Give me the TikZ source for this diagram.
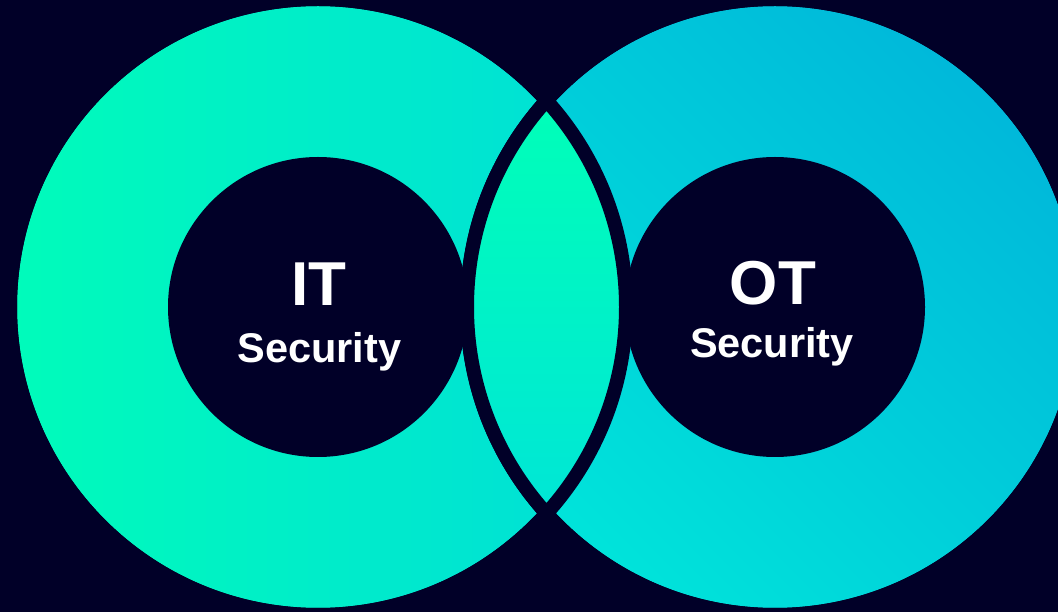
\documentclass[tikz,border=0pt]{standalone}
\usepackage{fontspec}
\setmainfont{Liberation Sans}
\definecolor{navy}{RGB}{1,0,40}
\definecolor{itleft}{RGB}{0,252,186}
\definecolor{itright}{RGB}{0,222,216}
\definecolor{otblue}{RGB}{0,184,218}
\definecolor{otteal}{RGB}{0,228,218}
\definecolor{lenstop}{RGB}{0,255,184}
\definecolor{lensbot}{RGB}{0,230,214}
\tikzset{
  gap/.style={draw=navy, line width=14pt},
  big/.style={font=\fontsize{62}{70}\selectfont\bfseries, text=white, anchor=base, inner sep=0pt},
  small/.style={font=\fontsize{41.5}{48}\selectfont\bfseries, text=white, anchor=base, inner sep=0pt}
}
\begin{document}
\begin{tikzpicture}[x=1pt,y=1pt]
\useasboundingbox (0,0) rectangle (1058,611);
\fill[navy] (-10,-10) rectangle (1068,621);
\coordinate (itc) at (318,304);
\coordinate (otc) at (775,304);

% two outer rings
\shadedraw[left color=itleft, right color=itright, gap] (itc) circle (308);
\shadedraw[top color=otblue, bottom color=otteal, shading angle=-45, gap] (otc) circle (308);

% overlap
\begin{scope}
\clip (itc) circle (308);
\clip (otc) circle (308);
\shade[top color=lenstop, bottom color=lensbot] (460,96) rectangle (633,512);
\end{scope}
\draw[gap] (itc) circle (308) (otc) circle (308);

% holes
\fill[navy] (itc) circle (150) (otc) circle (150);

\node[big] (it) at (319,305) {IT};
\node[small] (itsec) at (319.5,248) {Security};
\node[big] (ot) at (773,306) {OT};
\node[small] (otsec) at (772,253) {Security};
\end{tikzpicture}
\end{document}
